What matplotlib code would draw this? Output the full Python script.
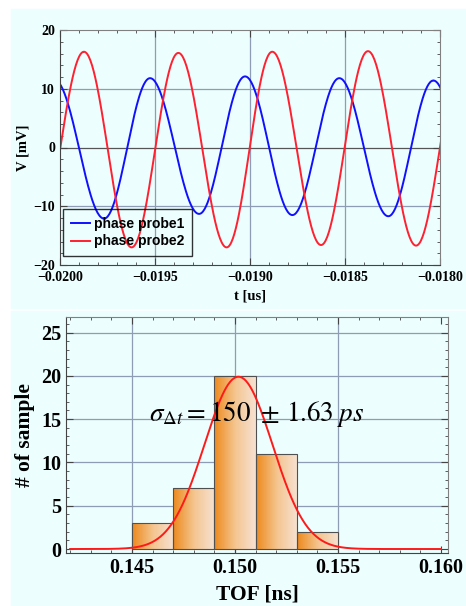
import numpy as np
import matplotlib.pyplot as plt
from matplotlib.patches import Rectangle
from matplotlib.colors import LinearSegmentedColormap
from matplotlib.ticker import MultipleLocator, FuncFormatter

# --- data ---
# waveform extrema (time in us, voltage in mV)
probe1_t = [-0.020029, -0.019768, -0.019526, -0.019268, -0.019026,
            -0.018777, -0.018530, -0.018272, -0.018035, -0.017785]
probe1_v = [11.5, -12.1, 11.8, -11.3, 12.1, -11.5, 11.8, -11.7, 11.4, -11.5]
probe2_t = [-0.020124, -0.019874, -0.019623, -0.019377, -0.019123,
            -0.018883, -0.018626, -0.018379, -0.018126, -0.017876]
probe2_v = [-16.6, 16.3, -17.0, 16.1, -17.0, 16.3, -16.6, 16.4, -16.7, 16.4]

# TOF histogram
bin_edges = [0.145, 0.147, 0.149, 0.151, 0.153, 0.155]
counts = [3, 7, 20, 11, 2]
# gaussian fit
fit_amp, fit_mu, fit_sigma = 19.9, 0.15017, 0.00165

bg = '#ECFEFE'
gridc = '#8E9CB6'
plt.rcParams['font.family'] = ['Liberation Serif', 'DejaVu Serif']
plt.rcParams['mathtext.fontset'] = 'stix'


def wave(t_ext, v_ext, n=60):
    # smooth half-cosine between consecutive extrema
    ts, vs = [], []
    for t0, t1, v0, v1 in zip(t_ext[:-1], t_ext[1:], v_ext[:-1], v_ext[1:]):
        s = np.linspace(0, 1, n)
        ts.append(t0 + (t1 - t0) * s)
        vs.append((v0 + v1) / 2 + (v0 - v1) / 2 * np.cos(np.pi * s))
    return np.concatenate(ts), np.concatenate(vs)


def style_axes(ax, size):
    ax.set_facecolor(bg)
    for side in ['left', 'bottom']:
        ax.spines[side].set_color('#444444')
    for side in ['top', 'right']:
        ax.spines[side].set_color('#808080')
    ax.tick_params(which='both', direction='in', top=True, right=True,
                   colors='#444444', labelcolor='black', labelsize=size)
    ax.tick_params(which='major', length=5)
    ax.tick_params(which='minor', length=2.5)
    for lab in ax.get_xticklabels() + ax.get_yticklabels():
        lab.set_fontweight('bold')


fig = plt.figure(figsize=(4.66, 6.06), dpi=100)
fig.patches.append(Rectangle((11 / 466, 298 / 606), 455 / 466, 299 / 606,
                             transform=fig.transFigure, color=bg, zorder=-10))
fig.patches.append(Rectangle((11 / 466, 0), 455 / 466, 295 / 606,
                             transform=fig.transFigure, color=bg, zorder=-10))

# --- top: waveforms ---
ax1 = fig.add_axes([60 / 466, 341 / 606, 380 / 466, 235 / 606])
t1, v1 = wave(probe1_t, probe1_v)
t2, v2 = wave(probe2_t, probe2_v)
ax1.plot(t1, v1, color='#1010FF', lw=1.4, label='phase probe1')
ax1.plot(t2, v2, color='#FF2030', lw=1.4, label='phase probe2')
ax1.set_xlim(-0.0200, -0.0180)
ax1.set_ylim(-20, 20)
ax1.xaxis.set_major_locator(MultipleLocator(0.0005))
ax1.xaxis.set_minor_locator(MultipleLocator(0.0001))
ax1.yaxis.set_major_locator(MultipleLocator(10))
ax1.yaxis.set_minor_locator(MultipleLocator(2))
ax1.xaxis.set_major_formatter(FuncFormatter(lambda v, p: f'{v:.4f}'.replace('-', '\u2212')))
ax1.yaxis.set_major_formatter(FuncFormatter(lambda v, p: f'{v:.0f}'.replace('-', '\u2212')))
for x in [-0.0195, -0.0190, -0.0185]:
    ax1.axvline(x, color=gridc, lw=0.9, zorder=0)
for y in [-10, 10]:
    ax1.axhline(y, color=gridc, lw=0.9, zorder=0)
ax1.axhline(0, color='#555555', lw=0.9, zorder=0)
style_axes(ax1, 10)
ax1.tick_params(axis='x', pad=4)
ax1.set_xlabel('t [us]', fontsize=10.5, fontweight='bold', labelpad=4)
ax1.set_ylabel('V [mV]', fontsize=10.5, fontweight='bold', labelpad=3)
leg = ax1.legend(loc='lower left', bbox_to_anchor=(0.008, 0.038), borderaxespad=0,
                 prop={'family': 'Liberation Sans', 'weight': 'bold', 'size': 10},
                 handlelength=1.4, handletextpad=0.3, labelspacing=0.25,
                 fancybox=False, facecolor='none', edgecolor='black',
                 borderpad=0.55)
leg.get_frame().set_linewidth(1.0)

# --- bottom: TOF histogram ---
ax2 = fig.add_axes([66 / 466, 53 / 606, 382 / 466, 236 / 606])
for x in [0.145, 0.150, 0.155]:
    ax2.axvline(x, color=gridc, lw=0.9, zorder=0)
for y in [5, 10, 15, 20, 25]:
    ax2.axhline(y, color=gridc, lw=0.9, zorder=0)

widths = np.diff(bin_edges)
bars = ax2.bar(bin_edges[:-1], counts, width=widths, align='edge',
               facecolor='none', edgecolor='#505050', lw=0.8, zorder=3)
cmap = LinearSegmentedColormap.from_list('org', ['#EE8A1E', '#F4C58F', '#F6E2D2'])
grad = np.linspace(0, 1, 64).reshape(1, -1)
for b in bars:
    x0, y0 = b.get_x(), b.get_y()
    im = ax2.imshow(grad, cmap=cmap, aspect='auto', zorder=2,
                    extent=[x0, x0 + b.get_width(), y0, y0 + b.get_height()])
    im.set_clip_path(b)
ax2.set_xlim(0.1418, 0.16034)
ax2.set_ylim(-0.46, 26.8)

tof = np.linspace(0.142, 0.160, 400)
ax2.plot(tof, fit_amp * np.exp(-(tof - fit_mu) ** 2 / (2 * fit_sigma ** 2)),
         color='#FF1A1A', lw=1.4, zorder=4)
ax2.text(0.15107, 14.8, r'$\sigma_{\Delta t} = 150\ \pm\, 1.63\; ps$',
         ha='center', va='baseline', fontsize=19.5, zorder=5)

ax2.xaxis.set_major_locator(MultipleLocator(0.005))
ax2.xaxis.set_minor_locator(MultipleLocator(0.001))
ax2.yaxis.set_major_locator(MultipleLocator(5))
ax2.yaxis.set_minor_locator(MultipleLocator(1))
ax2.xaxis.set_major_formatter(FuncFormatter(lambda v, p: f'{v:.3f}'))
style_axes(ax2, 14.5)
ax2.set_xlabel('TOF [ns]', fontsize=15.5, fontweight='bold', labelpad=5)
ax2.set_ylabel('# of sample', fontsize=15.5, fontweight='bold', labelpad=4)

fig.savefig('out.png', dpi=100, facecolor='white')
